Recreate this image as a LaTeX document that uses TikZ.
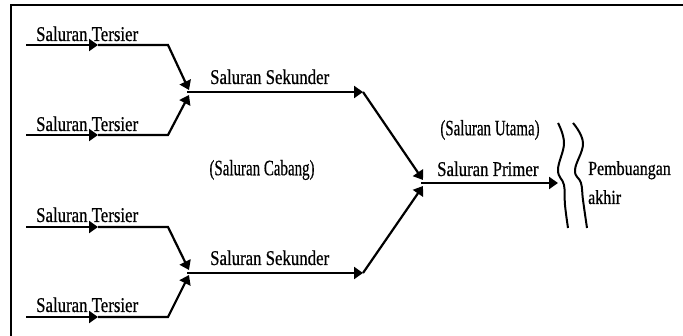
\documentclass[tikz,border=0pt]{standalone}
\usepackage{fontspec}
\setmainfont{Liberation Serif}
\newfontfamily\lblfont[FakeStretch=0.8,FakeBold=0.6]{Liberation Serif}
\newfontfamily\parfont[FakeStretch=0.68,FakeBold=0.3]{Liberation Serif}
\usetikzlibrary{arrows.meta}
\tikzset{
  chan/.style={line width=2.2pt, black},
  tip/.style={-{Triangle[length=9pt,width=12pt]}},
  lbl/.style={font=\lblfont\fontsize{21}{24}\selectfont, inner sep=0pt, anchor=base west},
  parlbl/.style={font=\parfont\fontsize{22}{24}\selectfont, inner sep=0pt},
  wave/.style={line width=2pt, black},
  frame/.style={line width=2.2pt, black}
}
\begin{document}
\begin{tikzpicture}[x=1pt,y=-1pt]
\useasboundingbox (0,0) rectangle (683,336);
% frame (top and left only)
\coordinate (fl) at (11,336);
\coordinate (fc) at (11,5);
\coordinate (fr) at (683,5);
\draw[frame] (fl) -- (fc) -- (fr);

% upper group
\coordinate (t1s) at (26,45);  \coordinate (t1m) at (98,45);  \coordinate (t1e) at (168,45);
\coordinate (t2s) at (26,135); \coordinate (t2m) at (98,135); \coordinate (t2e) at (168,135);
\coordinate (j1a) at (189,90); \coordinate (j1b) at (189,95);
\coordinate (j1) at (187,92);  \coordinate (s1e) at (363,92);
% lower group
\coordinate (t3s) at (26,227); \coordinate (t3m) at (98,227); \coordinate (t3e) at (168,227);
\coordinate (t4s) at (26,317); \coordinate (t4m) at (98,317); \coordinate (t4e) at (168,317);
\coordinate (j2a) at (189,270); \coordinate (j2b) at (189,275);
\coordinate (j2) at (187,273); \coordinate (s2e) at (363,273);
% primer
\coordinate (pa) at (423,180); \coordinate (pb) at (423,186);
\coordinate (p) at (421,183); \coordinate (pe) at (558,183);

% tersier channels
\draw[chan,tip] (t1s) -- (t1m);
\draw[chan,tip] (t1m) -- (t1e) -- (j1a);
\draw[chan,tip] (t2s) -- (t2m);
\draw[chan,tip] (t2m) -- (t2e) -- (j1b);
\draw[chan,tip] (t3s) -- (t3m);
\draw[chan,tip] (t3m) -- (t3e) -- (j2a);
\draw[chan,tip] (t4s) -- (t4m);
\draw[chan,tip] (t4m) -- (t4e) -- (j2b);
% sekunder channels
\draw[chan,tip] (j1) -- (s1e);
\draw[chan,tip] (s1e) -- (pa);
\draw[chan,tip] (j2) -- (s2e);
\draw[chan,tip] (s2e) -- (pb);
% primer
\draw[chan,tip] (p) -- (pe);

% wavy lines
\draw[wave] plot[smooth, tension=0.7] coordinates {(558,123) (564,143) (558,170) (564,185) (565,205) (568,228)};
\draw[wave] plot[smooth, tension=0.7] coordinates {(573,123) (583,143) (575,170) (581,183) (583,200) (587,228)};

% labels
\node[lbl] (lt1) at (36,41) {Saluran Tersier};
\node[lbl] (lt2) at (36,131) {Saluran Tersier};
\node[lbl] (lt3) at (36,222) {Saluran Tersier};
\node[lbl] (lt4) at (36,312) {Saluran Tersier};
\node[lbl] (ls1) at (210,84) {Saluran Sekunder};
\node[lbl] (ls2) at (210,265) {Saluran Sekunder};
\node[parlbl] (lcab) at (262,170) {(Saluran Cabang)};
\node[parlbl] (luta) at (490,130) {(Saluran Utama)};
\node[lbl] (lpri) at (437,176) {Saluran Primer};
\node[lbl, font=\lblfont\fontsize{20}{24}\selectfont] (lpem) at (588,175) {Pembuangan};
\node[lbl, font=\lblfont\fontsize{20}{24}\selectfont] (lakh) at (588,204) {akhir};
\end{tikzpicture}
\end{document}
